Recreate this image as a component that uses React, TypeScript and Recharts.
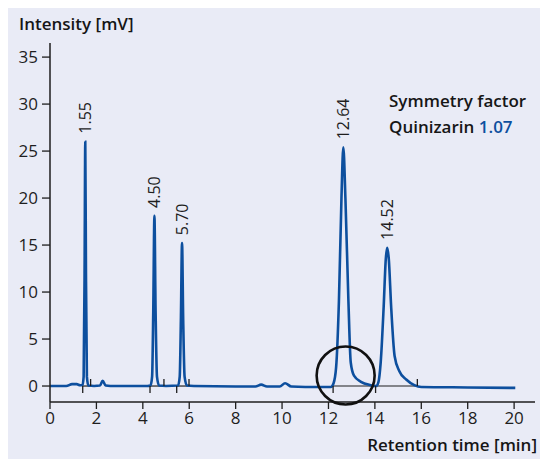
import {
  ComposedChart,
  Line,
  Scatter,
  XAxis,
  YAxis,
  ReferenceLine,
  ReferenceDot,
} from 'recharts';

// chromatogram trace
const traceTime = [
  0, 0.7, 0.95, 1.15, 1.3, 1.4, 1.45, 1.49, 1.52, 1.55, 1.59, 1.65, 1.9, 2.15, 2.27, 2.4, 2.6,
  4.2, 4.33, 4.4, 4.45, 4.5, 4.55, 4.61, 4.7, 5.0, 5.52, 5.59, 5.64, 5.69, 5.74, 5.8, 5.9, 6.2,
  8.0, 8.85, 9.1, 9.35, 9.9, 10.13, 10.4, 11.0, 12.1, 12.22, 12.33, 12.45, 12.56, 12.64, 12.73,
  12.86, 12.96, 13.1, 13.4, 13.8, 14.05, 14.15, 14.25, 14.38, 14.47, 14.53, 14.6, 14.7, 14.85,
  15.05, 15.35, 15.7, 16.0, 18.0, 20.05,
];
const traceSignal = [
  0, 0, 0.2, 0.2, 0.08, 0.1, 1.0, 12, 26, 12, 1.0, 0.05, 0, 0.05, 0.55, 0.05, 0,
  0, 0.05, 1.0, 8, 18.1, 8, 1.0, 0.05, 0, 0.05, 1.0, 7, 15.2, 7, 1.0, 0.05, 0,
  -0.05, -0.05, 0.15, -0.05, -0.05, 0.3, -0.05, -0.1, -0.1, 0.3, 2.0, 9.0, 20, 25.4, 20,
  9, 2.5, 1.1, 0.45, 0.1, 0.0, 0.4, 2.5, 8.5, 13.5, 14.7, 13.5, 8.5, 3.2,
  1.6, 0.7, 0.1, -0.1, -0.15, -0.2,
];

const peakTimes = [1.52, 4.5, 5.69, 12.64, 14.53];
const peakHeights = [26, 18.1, 15.2, 25.4, 14.7];
const peakLabels = ['1.55', '4.50', '5.70', '12.64', '14.52'];

// integration start (down) / end (up) markers
const startMarks = [1.41, 4.31, 5.46, 12.2, 14.03];
const endMarks = [1.75, 4.91, 5.99, 15.83];
const baselineSegments: [number, number][] = [
  [1.41, 1.75],
  [4.31, 4.91],
  [5.46, 5.99],
  [12.2, 14.03],
  [14.03, 15.83],
];

const xTicks = [0, 2, 4, 6, 8, 10, 12, 14, 16, 18, 20];
const yTicks = [0, 5, 10, 15, 20, 25, 30, 35];

const trace = traceTime.map((t, i) => ({ t, v: traceSignal[i] }));
const peaks = peakTimes.map((t, i) => ({ t, v: peakHeights[i], label: peakLabels[i] }));
const marks = [
  ...startMarks.map((t) => ({ t, v: 0, dir: 1 })),
  ...endMarks.map((t) => ({ t, v: 0, dir: -1 })),
];

const BLUE = '#0d4f9e';
const INK = '#1e1e1e';
const FONT = '"Open Sans", sans-serif';

function PeakLabel(props: any) {
  const { cx, cy, payload } = props;
  const x = cx + 6;
  const y = cy - 8;
  return (
    <text
      x={x}
      y={y}
      transform={`rotate(-90 ${x} ${y})`}
      fontFamily={FONT}
      fontSize={16}
      fill={INK}
    >
      {payload.label}
    </text>
  );
}

function Mark(props: any) {
  const { cx, cy, payload } = props;
  return <line x1={cx} x2={cx} y1={cy} y2={cy + payload.dir * 7} stroke={INK} strokeWidth={1.3} />;
}

export default function App() {
  return (
    <div style={{ position: 'relative', width: 532, height: 451, background: '#e9ebf6' }}>
      <style>{'html{overflow:hidden} body{margin:8px 0 0 8px}'}</style>
      <ComposedChart width={532} height={451} data={trace} margin={{ top: 35, right: 5, left: 0, bottom: 0 }}>
        <XAxis
          dataKey="t"
          type="number"
          domain={[0, 20.9]}
          ticks={xTicks}
          allowDataOverflow
          height={57}
          tickSize={7}
          tickMargin={3}
          tick={{ fill: INK, fontSize: 17, fontFamily: FONT }}
          axisLine={{ stroke: INK, strokeWidth: 1.5 }}
          tickLine={{ stroke: INK, strokeWidth: 1.3 }}
        />
        <YAxis
          type="number"
          domain={[-1.7, 36.5]}
          ticks={yTicks}
          allowDataOverflow
          width={42}
          tickSize={8}
          tickMargin={4}
          tick={{ fill: INK, fontSize: 17, fontFamily: FONT }}
          axisLine={{ stroke: INK, strokeWidth: 1.5 }}
          tickLine={{ stroke: INK, strokeWidth: 1.3 }}
        />
        {baselineSegments.map(([a, b], i) => (
          <ReferenceLine
            key={i}
            segment={[
              { x: a, y: 0 },
              { x: b, y: 0 },
            ]}
            stroke={INK}
            strokeWidth={1.2}
          />
        ))}
        <Line
          dataKey="v"
          type="monotone"
          stroke={BLUE}
          strokeWidth={2.6}
          dot={false}
          isAnimationActive={false}
        />
        <Scatter data={marks} dataKey="v" shape={<Mark />} isAnimationActive={false} />
        <Scatter data={peaks} dataKey="v" shape={<PeakLabel />} isAnimationActive={false} />
        <ReferenceDot x={12.74} y={1.12} r={29} fill="none" stroke="#111" strokeWidth={2.6} />
      </ComposedChart>
      <svg
        width={532}
        height={451}
        style={{ position: 'absolute', left: 0, top: 0, pointerEvents: 'none' }}
        fontFamily={FONT}
        fontWeight={600}
        fontSize={17}
        fill="#161616"
      >
        <text x={11} y={22}>Intensity [mV]</text>
        <text x={381} y={99}>Symmetry factor</text>
        <text x={381} y={125}>
          Quinizarin <tspan fill={BLUE}>1.07</tspan>
        </text>
        <text x={529} y={443} textAnchor="end">Retention time [min]</text>
      </svg>
    </div>
  );
}
